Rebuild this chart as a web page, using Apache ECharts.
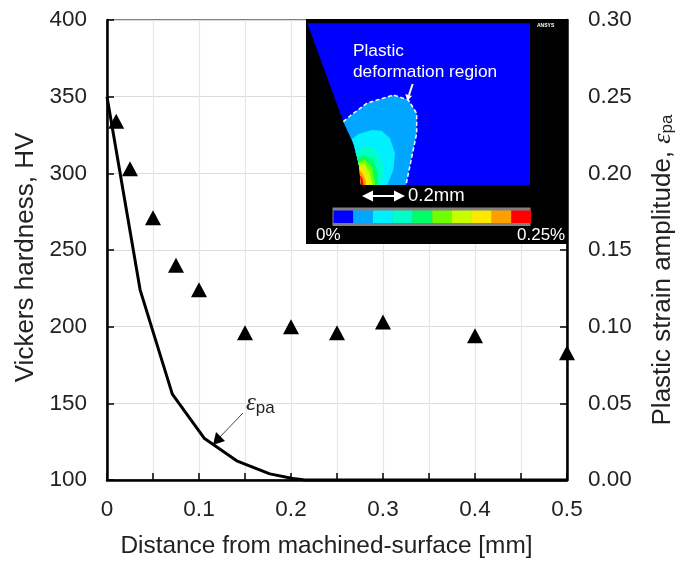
<!DOCTYPE html>
<html><head><meta charset="utf-8">
<style>html,body{margin:0;padding:0;background:#fff}#c{width:692px;height:563px}</style>
<script src="https://cdn.jsdelivr.net/npm/echarts@6/dist/echarts.min.js"></script>
</head><body><div id="c"></div>
<script>
const hardnessX = [0.01,0.025,0.05,0.075,0.1,0.15,0.2,0.25,0.3,0.4,0.5];
const hardnessHV = [334,303,271,240,224,196,200,196,203,194,183];
const strainX = [0,0.036,0.071,0.106,0.141,0.177,0.202,0.215,0.3,0.4,0.5];
const strainAmp = [0.25,0.124,0.056,0.027,0.0125,0.004,0.001,0,0,0,0];
const FONT = '"Liberation Sans", Arial, sans-serif';

// Inset picture (FE contour image pasted on the plot), traced in reference zoom coordinates
const Z = (x,y)=>[300+x/3, 10+y/3];
const path = pts => pts.map(p=>Z(p[0],p[1]));
const edge = [[183,525],[180,480],[172,445],[160,400],[130,335]];
const contours = [
 ['#00a6ff',[[130,335],[150,318],[200,280],[280,255],[325,270],[350,310],[350,370],[318,525],[183,525],[180,480],[172,445],[160,400]]],
 ['#00f0ff',[[155,388],[175,372],[215,360],[245,362],[270,385],[285,430],[280,480],[262,525],[183,525],[180,480],[172,445],[160,400]]],
 ['#00ffc8',[[166,425],[190,412],[220,415],[240,440],[250,480],[245,525],[183,525],[180,480],[172,445]]],
 ['#00ff64',[[171,443],[195,435],[220,450],[235,490],[232,525],[183,525],[180,480]]],
 ['#70ff00',[[174,455],[195,450],[215,470],[226,525],[183,525],[180,480]]],
 ['#c8ff00',[[176,460],[192,460],[208,485],[218,525],[183,525],[180,480]]],
 ['#ffe800',[[177,468],[190,475],[202,500],[208,525],[183,525]]],
 ['#ffa000',[[178,480],[188,490],[196,510],[199,525],[183,525]]],
 ['#ff0000',[[180,495],[187,505],[191,525],[183,525]]]
];
const barColors = ['#0000ff','#00a6ff','#00f0ff','#00ffc8','#00ff64','#70ff00','#c8ff00','#ffe800','#ffa000','#ff0000'];
const Z_I = 20;
const g = [];
g.push({type:'rect',z:Z_I,shape:{x:306,y:19,width:262,height:225},style:{fill:'#000'},silent:true});
g.push({type:'polygon',z:Z_I,shape:{points:path([[22,40],[690,40],[690,525]].concat(edge))},style:{fill:'#0000ff'},silent:true});
contours.forEach(c=>g.push({type:'polygon',z:Z_I,shape:{points:path(c[1])},style:{fill:c[0]},silent:true}));
g.push({type:'polyline',z:Z_I,shape:{points:path([[130,335],[150,318],[200,280],[280,255],[325,270],[350,310],[350,370],[318,525]])},
  style:{stroke:'#fff',lineWidth:1.5,lineDash:[4,2.5],fill:'none'},silent:true});
g.push({type:'line',z:Z_I,shape:{x1:Z(338,222)[0],y1:Z(338,222)[1],x2:Z(327,255)[0],y2:Z(327,255)[1]},style:{stroke:'#fff',lineWidth:2},silent:true});
g.push({type:'polygon',z:Z_I,shape:{points:path([[316,252],[336,258],[322,272]])},style:{fill:'#fff'},silent:true});
const tx=(text,x,y,size)=>({type:'text',z:Z_I+1,silent:true,x,y,style:{text,fill:'#fff',fontSize:size,fontFamily:FONT,verticalAlign:'middle'}});
g.push(tx('Plastic',353,51,17.3));
g.push(tx('deformation region',353,72.5,17.3));
g.push(tx('0.2mm',408,196,18.5));
g.push(tx('0%',316,235,17));
g.push(tx('0.25%',517,235,17));
g.push({type:'text',z:Z_I+1,silent:true,x:537,y:26,style:{text:'ANSYS',fill:'#fff',fontSize:5,fontWeight:'bold',fontFamily:FONT,verticalAlign:'middle'}});
g.push({type:'line',z:Z_I,shape:{x1:366,y1:196,x2:402,y2:196},style:{stroke:'#fff',lineWidth:2},silent:true});
g.push({type:'polygon',z:Z_I,shape:{points:[[362,196],[373,190.5],[373,201.5]]},style:{fill:'#fff'},silent:true});
g.push({type:'polygon',z:Z_I,shape:{points:[[405,196],[394,190.5],[394,201.5]]},style:{fill:'#fff'},silent:true});
g.push({type:'rect',z:Z_I,shape:{x:332.5,y:207.5,width:198,height:18.5},style:{fill:'#808080'},silent:true});
barColors.forEach((c,i)=>g.push({type:'rect',z:Z_I,shape:{x:333.5+i*19.75,y:210.5,width:19.9,height:12.5},style:{fill:c},silent:true}));
g.push({type:'text',z:10,silent:true,x:246,y:405,style:{
  rich:{e:{fontSize:25,fontStyle:'italic',fontFamily:'"Liberation Serif", serif',fill:'#222',padding:[0,0,4,0]},s:{fontSize:17,fontFamily:FONT,fill:'#222',padding:[6,0,0,0]}},
  text:'{e|ε}{s|pa}',verticalAlign:'middle'}});
g.push({type:'line',z:10,shape:{x1:243,y1:413,x2:218,y2:439},style:{stroke:'#444',lineWidth:1},silent:true});
g.push({type:'polygon',z:10,shape:{points:[[213,445],[216,432],[225,441]]},style:{fill:'#000'},silent:true});

const tickStyle = {show:true,inside:true,length:7,lineStyle:{color:'#000',width:1.5}};
const lab = {color:'#222',fontSize:22.5,fontFamily:FONT};
const nameStyle = {color:'#222',fontSize:26,fontFamily:FONT};
const option = {
  animation:false,
  backgroundColor:'#fff',
  grid:{left:107,right:125,top:20,bottom:82,show:true,borderColor:'#000',borderWidth:1,backgroundColor:'transparent'},
  xAxis:{type:'value',min:0,max:0.5,interval:0.05,
    axisLine:{show:true,lineStyle:{color:'#000',width:2.5}},
    axisTick:tickStyle,
    splitLine:{show:true,lineStyle:{color:'#e6e6e6',width:1.2}},
    axisLabel:{...lab,margin:18,formatter:v=>{const r=Math.round(v*100);return r%10===0?(r===0?'0':(r/100).toFixed(1)):'';}},
    name:'Distance from machined-surface [mm]',nameLocation:'middle',nameGap:54,nameTextStyle:{...nameStyle,fontSize:24.4,padding:[0,21,0,0]}},
  yAxis:[
   {type:'value',min:100,max:400,interval:50,
    axisLine:{show:true,lineStyle:{color:'#000',width:2.5}},axisTick:tickStyle,
    splitLine:{show:true,lineStyle:{color:'#dcdcdc',width:1.2}},
    axisLabel:{...lab,margin:20},
    name:'Vickers hardness, HV',nameLocation:'middle',nameGap:68,nameRotate:90,nameTextStyle:{...nameStyle,padding:[0,15,0,0]}},
   {type:'value',min:0,max:0.3,interval:0.05,position:'right',
    axisLine:{show:true,onZero:false,lineStyle:{color:'#000',width:2.5}},axisTick:tickStyle,
    splitLine:{show:false},
    axisLabel:{...lab,margin:21,formatter:v=>v.toFixed(2)},
    name:'{a|Plastic strain amplitude, }{b|ε}{c|pa}',nameLocation:'middle',nameGap:83,nameRotate:90,
    nameTextStyle:{padding:[0,40,0,0],rich:{a:{...nameStyle},b:{fontSize:26,fontStyle:'italic',fontFamily:'"Liberation Serif",serif',color:'#222'},c:{fontSize:17,fontFamily:FONT,color:'#222',padding:[8,0,0,0]}}}}
  ],
  series:[
   {type:'line',name:'Plastic strain amplitude',yAxisIndex:1,data:strainX.map((x,i)=>[x,strainAmp[i]]),showSymbol:false,symbol:'none',
    lineStyle:{color:'#000',width:3,join:'round'},z:3,clip:false},
   {type:'scatter',name:'Vickers hardness',yAxisIndex:0,data:hardnessX.map((x,i)=>[x,hardnessHV[i]]),symbol:'triangle',symbolSize:[16,15],
    itemStyle:{color:'#000',opacity:1},z:4,clip:false}
  ],
  graphic:g
};
const chart = echarts.init(document.getElementById('c'),null,{renderer:'canvas'});
chart.setOption(option);
</script></body></html>
